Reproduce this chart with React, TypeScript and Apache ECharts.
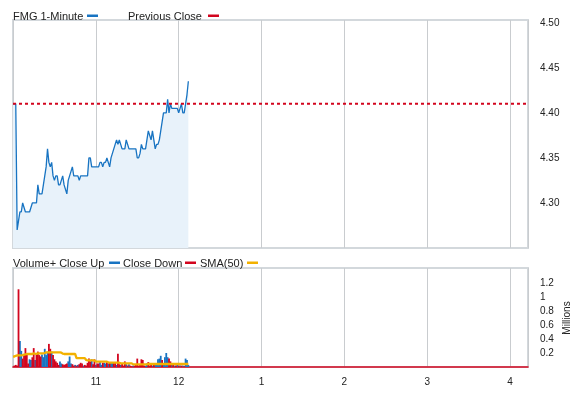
import React, { useEffect, useRef } from "react";
import * as echarts from "echarts";

// minutes since 10:00
const minutes: number[] = Array.from({ length: 128 }, (_, i) => i);

const priceClose: number[] = [
  4.41, 4.41, 4.41, 4.27, 4.28, 4.29, 4.29, 4.30, 4.295, 4.29,
  4.29, 4.29, 4.29, 4.295, 4.30, 4.30, 4.30, 4.30, 4.32, 4.31,
  4.31, 4.31, 4.32, 4.33, 4.34, 4.36, 4.345, 4.34, 4.345, 4.33,
  4.325, 4.33, 4.33, 4.32, 4.32, 4.325, 4.33, 4.32, 4.315, 4.31,
  4.325, 4.33, 4.335, 4.34, 4.33, 4.33, 4.33, 4.33, 4.325, 4.33,
  4.33, 4.33, 4.33, 4.33, 4.33, 4.35, 4.35, 4.34, 4.34, 4.34,
  4.34, 4.34, 4.34, 4.345, 4.345, 4.34, 4.345, 4.345, 4.35, 4.345,
  4.34, 4.35, 4.355, 4.36, 4.365, 4.37, 4.365, 4.37, 4.365, 4.36,
  4.36, 4.36, 4.37, 4.365, 4.36, 4.36, 4.36, 4.36, 4.36, 4.36,
  4.35, 4.35, 4.355, 4.365, 4.36, 4.36, 4.36, 4.37, 4.38, 4.375,
  4.37, 4.38, 4.37, 4.36, 4.365, 4.365, 4.37, 4.38, 4.39, 4.40,
  4.40, 4.40, 4.415, 4.40, 4.41, 4.405, 4.405, 4.405, 4.405, 4.405,
  4.40, 4.405, 4.41, 4.40, 4.40, 4.41, 4.42, 4.435,
];

const previousClose = 4.41;

// volume in millions, close up (blue) and close down (red)
const volUp: number[] = [
  0, 0, 0, 0, 0, 0.37, 0.23, 0, 0, 0,
  0, 0, 0.11, 0.10, 0, 0, 0.10, 0, 0, 0,
  0, 0.18, 0.14, 0.26, 0.17, 0.22, 0, 0, 0.22, 0,
  0, 0, 0, 0, 0.08, 0.05, 0, 0, 0, 0,
  0.08, 0.15, 0.05, 0, 0, 0.03, 0, 0.03, 0, 0,
  0, 0.02, 0, 0, 0, 0, 0, 0.11, 0, 0,
  0.03, 0, 0, 0.07, 0.03, 0, 0.06, 0.05, 0, 0.05,
  0, 0.06, 0.06, 0, 0, 0.03, 0, 0, 0.03, 0,
  0, 0, 0.04, 0, 0.04, 0, 0, 0.02, 0, 0,
  0, 0, 0, 0, 0, 0, 0.02, 0.05, 0, 0,
  0, 0.02, 0, 0.04, 0.04, 0.11, 0.12, 0.16, 0, 0.05,
  0.14, 0.20, 0.14, 0, 0, 0.05, 0, 0.02, 0, 0.03,
  0, 0.02, 0, 0.02, 0, 0.12, 0.10, 0.03,
];

const volDown: number[] = [
  0, 0.02, 0.03, 0.02, 1.11, 0, 0, 0.12, 0.17, 0.27,
  0.19, 0.05, 0, 0, 0.14, 0.27, 0, 0.20, 0.22, 0.17,
  0.15, 0, 0, 0, 0, 0, 0.33, 0.26, 0, 0.17,
  0.11, 0.08, 0.06, 0.03, 0, 0, 0.04, 0.03, 0.04, 0.05,
  0, 0, 0, 0.04, 0.02, 0, 0.02, 0, 0.04, 0.06,
  0.05, 0, 0.03, 0.02, 0.06, 0.12, 0.08, 0, 0.04, 0.11,
  0, 0.05, 0.05, 0, 0, 0.06, 0, 0, 0.07, 0,
  0.06, 0, 0, 0.07, 0.07, 0, 0.19, 0.04, 0, 0.05,
  0.02, 0.08, 0, 0.02, 0, 0.02, 0.01, 0, 0.02, 0.03,
  0.12, 0.02, 0.03, 0.11, 0.10, 0.02, 0, 0, 0.07, 0.02,
  0.04, 0, 0.03, 0, 0, 0, 0, 0, 0.10, 0,
  0, 0, 0, 0.12, 0.08, 0, 0.03, 0, 0.02, 0,
  0.02, 0, 0.02, 0, 0.01, 0, 0, 0,
];

const sma50: number[] = [
  0.148, 0.15, 0.16, 0.165, 0.167, 0.167, 0.167, 0.17, 0.176, 0.18,
  0.186, 0.186, 0.186, 0.186, 0.186, 0.195, 0.19, 0.186, 0.195, 0.195,
  0.195, 0.195, 0.195, 0.2, 0.21, 0.21, 0.21, 0.21, 0.21, 0.21,
  0.21, 0.21, 0.21, 0.21, 0.21, 0.205, 0.19, 0.186, 0.186, 0.186,
  0.186, 0.186, 0.186, 0.186, 0.186, 0.186, 0.128, 0.128, 0.128, 0.128,
  0.128, 0.128, 0.128, 0.10, 0.094, 0.094, 0.094, 0.094, 0.094, 0.094,
  0.076, 0.076, 0.076, 0.076, 0.076, 0.076, 0.076, 0.076, 0.076, 0.067,
  0.062, 0.062, 0.062, 0.062, 0.062, 0.062, 0.062, 0.062, 0.052, 0.052,
  0.052, 0.052, 0.052, 0.052, 0.052, 0.052, 0.052, 0.038, 0.038, 0.038,
  0.038, 0.038, 0.038, 0.038, 0.038, 0.038, 0.038, 0.038, 0.043, 0.043,
  0.043, 0.043, 0.043, 0.043, 0.043, 0.043, 0.043, 0.043, 0.043, 0.043,
  0.043, 0.043, 0.043, 0.043, 0.043, 0.043, 0.043, 0.043, 0.043, 0.043,
  0.043, 0.043, 0.043, 0.043, 0.043, 0.043, 0.043, 0.043,
];

const hourLabels: Record<number, string> = { 60: "11", 120: "12", 180: "1", 240: "2", 300: "3", 360: "4" };
const priceTicks: string[] = ["4.30", "4.35", "4.40", "4.45", "4.50"];
const volTicks: string[] = ["0.2", "0.4", "0.6", "0.8", "1", "1.2"];

const topLegend = [
  { text: "FMG 1-Minute", x: 13, dashX: 87, color: "#1874c2" },
  { text: "Previous Close", x: 128, dashX: 208, color: "#d2051e" },
];
const bottomLegend = [
  { text: "Volume+ Close Up", x: 13, dashX: 109, color: "#1874c2" },
  { text: "Close Down", x: 123, dashX: 185, color: "#d2051e" },
  { text: "SMA(50)", x: 200, dashX: 247, color: "#f2b100" },
];

const BLUE = "#1874c2";
const RED = "#d2051e";
const ORANGE = "#f2b100";
const FONT = "Liberation Sans, Arial, sans-serif";

export default function App() {
  const ref = useRef<HTMLDivElement>(null);
  useEffect(() => {
    if (!ref.current) return;
    const chart = echarts.init(ref.current, undefined, { renderer: "svg" });

    const legendGraphics: any[] = [];
    const addLegend = (items: typeof topLegend, y: number) => {
      items.forEach((it) => {
        legendGraphics.push({
          type: "text",
          x: it.x,
          y,
          style: { text: it.text, fill: "#222", font: `11px ${FONT}`, verticalAlign: "middle", align: "left" },
        });
        legendGraphics.push({
          type: "rect",
          shape: { x: it.dashX, y: y - 1, width: 11, height: 2.5 },
          style: { fill: it.color },
        });
      });
    };
    addLegend(topLegend, 15.5);
    addLegend(bottomLegend, 262.5);
    legendGraphics.push({
      type: "text",
      x: 566,
      y: 318,
      rotation: Math.PI / 2,
      style: { text: "Millions", fill: "#222", font: `10px ${FONT}`, align: "center", verticalAlign: "middle" },
    });

    const splitLine = { show: true, lineStyle: { color: "#c9cccf", width: 1 } };

    chart.setOption({
      animation: false,
      textStyle: { fontFamily: FONT },
      grid: [
        { left: 13, right: 50, top: 20, height: 228, show: true, borderColor: "#d3d8dc", borderWidth: 2, backgroundColor: "transparent" },
        { left: 13, right: 50, top: 268, height: 99, show: true, borderColor: "#d3d8dc", borderWidth: 2, backgroundColor: "transparent" },
      ],
      xAxis: [
        {
          type: "value", gridIndex: 0, min: 0, max: 373, interval: 60,
          axisLine: { show: false }, axisTick: { show: false }, axisLabel: { show: false }, splitLine,
        },
        {
          type: "value", gridIndex: 1, min: 0, max: 373, interval: 60,
          axisLine: { show: true, onZero: false, lineStyle: { color: RED, width: 1.5 } },
          axisTick: { show: false },
          axisLabel: {
            color: "#222", fontSize: 10, margin: 9,
            formatter: (v: number) => hourLabels[Math.round(v)] ?? "",
          },
          splitLine,
        },
      ],
      yAxis: [
        {
          type: "value", gridIndex: 0, position: "right", min: 4.25, max: 4.503, interval: 0.05,
          axisLine: { show: false }, axisTick: { show: false }, splitLine: { show: false },
          axisLabel: {
            color: "#222", fontSize: 10, margin: 12,
            formatter: (v: number) => {
              const s = v.toFixed(2);
              return Math.abs(v - parseFloat(s)) < 1e-6 && priceTicks.includes(s) ? s : "";
            },
          },
        },
        {
          type: "value", gridIndex: 1, position: "right", min: 0, max: 1.414, interval: 0.2,
          axisLine: { show: false }, axisTick: { show: false }, splitLine: { show: false },
          axisLabel: {
            color: "#222", fontSize: 10, margin: 12,
            formatter: (v: number) => {
              const s = String(parseFloat(v.toFixed(1)));
              return Math.abs(v - parseFloat(s)) < 1e-6 && volTicks.includes(s) ? s : "";
            },
          },
        },
      ],
      graphic: legendGraphics,
      series: [
        {
          type: "line", xAxisIndex: 0, yAxisIndex: 0, symbol: "none",
          data: minutes.map((m, i) => [m, priceClose[i]]),
          lineStyle: { color: BLUE, width: 1.3 },
          areaStyle: { color: "#e8f2fa", opacity: 1, origin: "start" },
          z: 2,
        },
        {
          type: "line", xAxisIndex: 0, yAxisIndex: 0, symbol: "none",
          data: [[0, previousClose], [373, previousClose]],
          lineStyle: { color: RED, width: 2, type: [3, 3] },
          z: 3,
        },
        {
          type: "bar", xAxisIndex: 1, yAxisIndex: 1, barWidth: 1.8, barGap: "-100%",
          data: minutes.map((m, i) => [m, volUp[i] > 0 ? volUp[i] : null]),
          itemStyle: { color: BLUE },
          z: 2,
        },
        {
          type: "bar", xAxisIndex: 1, yAxisIndex: 1, barWidth: 1.8, barGap: "-100%",
          data: minutes.map((m, i) => [m, volDown[i] > 0 ? volDown[i] : null]),
          itemStyle: { color: RED },
          z: 2,
        },
        {
          type: "line", xAxisIndex: 1, yAxisIndex: 1, symbol: "none",
          data: minutes.map((m, i) => [m, sma50[i]]),
          lineStyle: { color: ORANGE, width: 2.3 },
          z: 4,
        },
      ],
    });
    return () => chart.dispose();
  }, []);
  return <div ref={ref} style={{ position: "fixed", left: 0, top: 0, width: 578, height: 394 }} />;
}
